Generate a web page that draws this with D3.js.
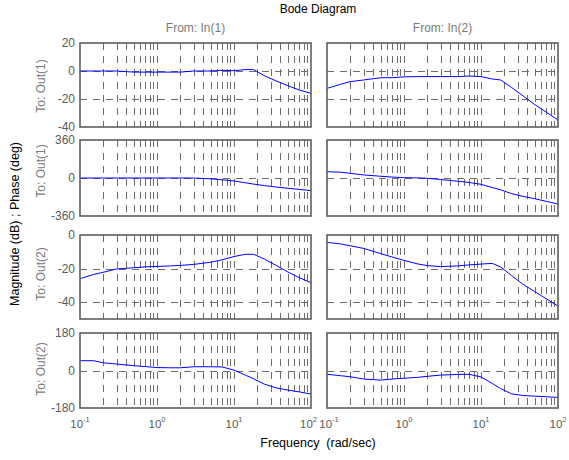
<!DOCTYPE html>
<html><head><meta charset="utf-8">
<script src="https://cdn.jsdelivr.net/npm/d3@7"></script>
<style>body{margin:0;background:#fff;} text{font-family:"Liberation Sans",Arial,Helvetica,sans-serif;}</style>
</head><body>
<svg id="c" width="569" height="460"></svg>
<script>
// ---- data ----
const freq    = [0.1, 0.15, 0.2, 0.3, 0.5, 0.7, 1, 1.5, 2, 3, 5, 7, 10, 14, 18, 25, 35, 50, 70, 100];
const mag11   = [0, 0, 0, 0, -0.8, -0.8, -0.8, -0.8, -0.8, 0, 0, 0.5, 0.2, 1, 1, -3.5, -7, -10.5, -13.5, -16];
const mag12   = [-12.4, -9.5, -7.6, -6.4, -4.8, -4.8, -4.2, -4, -4, -4, -4, -3.6, -4, -5.7, -6.4, -11.8, -17.7, -24, -29.3, -35];
const phase11 = [0, 0, 0, 0, 0, 0, 0, 0, 0, 0, -8, -17, -28, -45, -58, -72, -85, -97, -108, -120];
const phase12 = [60, 55, 44, 29, 16.5, 9, 3, 1, -3, -14, -31, -42, -60, -90, -112, -148, -174, -196, -221, -246];
const mag21   = [-26, -23.5, -22.2, -20.2, -19.5, -19, -18.7, -18.4, -18.1, -17.5, -16.2, -14.8, -12.8, -11.5, -11.5, -14.4, -18, -22, -25.3, -28.4];
const mag22   = [-4.4, -5.3, -6.4, -8, -11.1, -13.1, -15.1, -17.2, -18.2, -18.8, -18.4, -17.8, -17.3, -16.9, -19, -24.2, -29.3, -33.7, -37.9, -42.3];
const phase21 = [47, 47, 37, 31, 23, 19, 14, 13, 13, 18, 18, 17, 2, -22, -40, -66, -83, -94, -102.5, -113];
const phase22 = [-18, -25, -30, -41, -46, -41, -37, -33, -28, -22, -19, -18, -31, -62, -87, -112, -120, -123, -126, -129];

const xDecades    = [0.1, 1, 10, 100];
const xTickExps   = ["-1", "0", "1", "2"];
const inputLabels = ["From: In(1)", "From: In(2)"];
const rowLabels   = ["To: Out(1)", "To: Out(1)", "To: Out(2)", "To: Out(2)"];
const rowTicks    = [[20, 0, -20, -40], [360, 0, -360], [0, -20, -40], [180, 0, -180]];
const rowDomains  = [[-40, 20], [-360, 360], [-50, 0], [-180, 180]];
const rowSeries   = [[mag11, mag12], [phase11, phase12], [mag21, mag22], [phase21, phase22]];

// ---- layout ----
const colX = [[80, 311], [327, 558]];
const rowY = [[43, 127], [140, 216], [235, 319], [333, 408]];
const rowLabelY = [86, 171, 274, 369];

const svg = d3.select("#c");
const gridColor = "#6e6e6e", boxColor = "#5e5e5e", textGray = "#5a5a5a";

const minorTicks = [];
[0.1, 1, 10].forEach(d => { for (let k = 2; k <= 9; k++) minorTicks.push(k * d); });
const gridX = minorTicks.concat([1, 10]);

rowY.forEach(([y0, y1], r) => {
  const y = d3.scaleLinear().domain(rowDomains[r]).range([y1, y0]);
  colX.forEach(([x0, x1], c) => {
    const x = d3.scaleLog().domain([0.1, 100]).range([x0, x1]);
    const g = svg.append("g");
    const cid = `clip${r}${c}`;
    svg.append("clipPath").attr("id", cid).append("rect")
      .attr("x", x0).attr("y", y0).attr("width", x1 - x0).attr("height", y1 - y0);
    // vertical grid
    g.selectAll("line.vx").data(gridX).join("line")
      .attr("x1", d => Math.round(x(d)) + 0.5).attr("x2", d => Math.round(x(d)) + 0.5)
      .attr("y1", y0).attr("y2", y1)
      .attr("stroke", gridColor).attr("stroke-width", 1).attr("stroke-dasharray", "7,6");
    // horizontal grid
    g.selectAll("line.hy").data(rowTicks[r].filter(t => t > rowDomains[r][0] && t < rowDomains[r][1])).join("line")
      .attr("x1", x0).attr("x2", x1)
      .attr("y1", d => Math.round(y(d)) + 0.5).attr("y2", d => Math.round(y(d)) + 0.5)
      .attr("stroke", gridColor).attr("stroke-width", 1).attr("stroke-dasharray", "7,6");
    // curve
    const vals = rowSeries[r][c];
    const line = d3.line().x((d, i) => x(freq[i])).y(d => y(d));
    g.append("path").datum(vals).attr("d", line)
      .attr("fill", "none").attr("stroke", "#0000ff").attr("stroke-width", 1)
      .attr("clip-path", `url(#${cid})`);
    // box
    g.append("rect").attr("x", x0).attr("y", y0).attr("width", x1 - x0).attr("height", y1 - y0)
      .attr("fill", "none").attr("stroke", boxColor).attr("stroke-width", 1.6);
    // y tick labels
    if (c === 0) {
      g.selectAll("text.yt").data(rowTicks[r]).join("text")
        .attr("x", x0 - 5).attr("y", d => y(d)).attr("dy", "0.35em")
        .attr("text-anchor", "end").attr("font-size", 12).attr("fill", textGray)
        .text(d => d);
    }
    // x tick labels on bottom row
    if (r === rowY.length - 1) {
      xDecades.forEach((d, i) => {
        // nudge the two labels that meet between the columns so they only touch
        let nudge = 0;
        if (c === 0 && i === xDecades.length - 1) nudge = -2.5;
        if (c === 1 && i === 0) nudge = 2;
        const t = g.append("text").attr("x", x(d) + nudge).attr("y", y1 + 20)
          .attr("text-anchor", "middle").attr("fill", textGray);
        t.append("tspan").attr("font-size", 11.5).text("10");
        t.append("tspan").attr("font-size", 7.5).attr("dy", -6).text(xTickExps[i]);
      });
    }
  });
  // row label
  svg.append("text").attr("transform", `translate(45,${rowLabelY[r]}) rotate(-90)`)
    .attr("text-anchor", "middle").attr("font-size", 12).attr("fill", "#7a7a7a")
    .text(rowLabels[r]);
});

// column labels
colX.forEach(([x0, x1], c) => {
  svg.append("text").attr("x", (x0 + x1) / 2).attr("y", 32)
    .attr("text-anchor", "middle").attr("font-size", 12).attr("fill", "#7a7a7a")
    .text(inputLabels[c]);
});

// titles
svg.append("text").attr("x", 318).attr("y", 13).attr("text-anchor", "middle")
  .attr("font-size", 12).attr("fill", "#000").text("Bode Diagram");
svg.append("text").attr("x", 318).attr("y", 447).attr("text-anchor", "middle")
  .attr("font-size", 12.5).attr("fill", "#000").attr("xml:space", "preserve").text("Frequency  (rad/sec)");
svg.append("text").attr("transform", "translate(19,224) rotate(-90)").attr("text-anchor", "middle")
  .attr("font-size", 12.5).attr("fill", "#000").attr("xml:space", "preserve").text("Magnitude (dB) ; Phase (deg)");
</script>
</body></html>
